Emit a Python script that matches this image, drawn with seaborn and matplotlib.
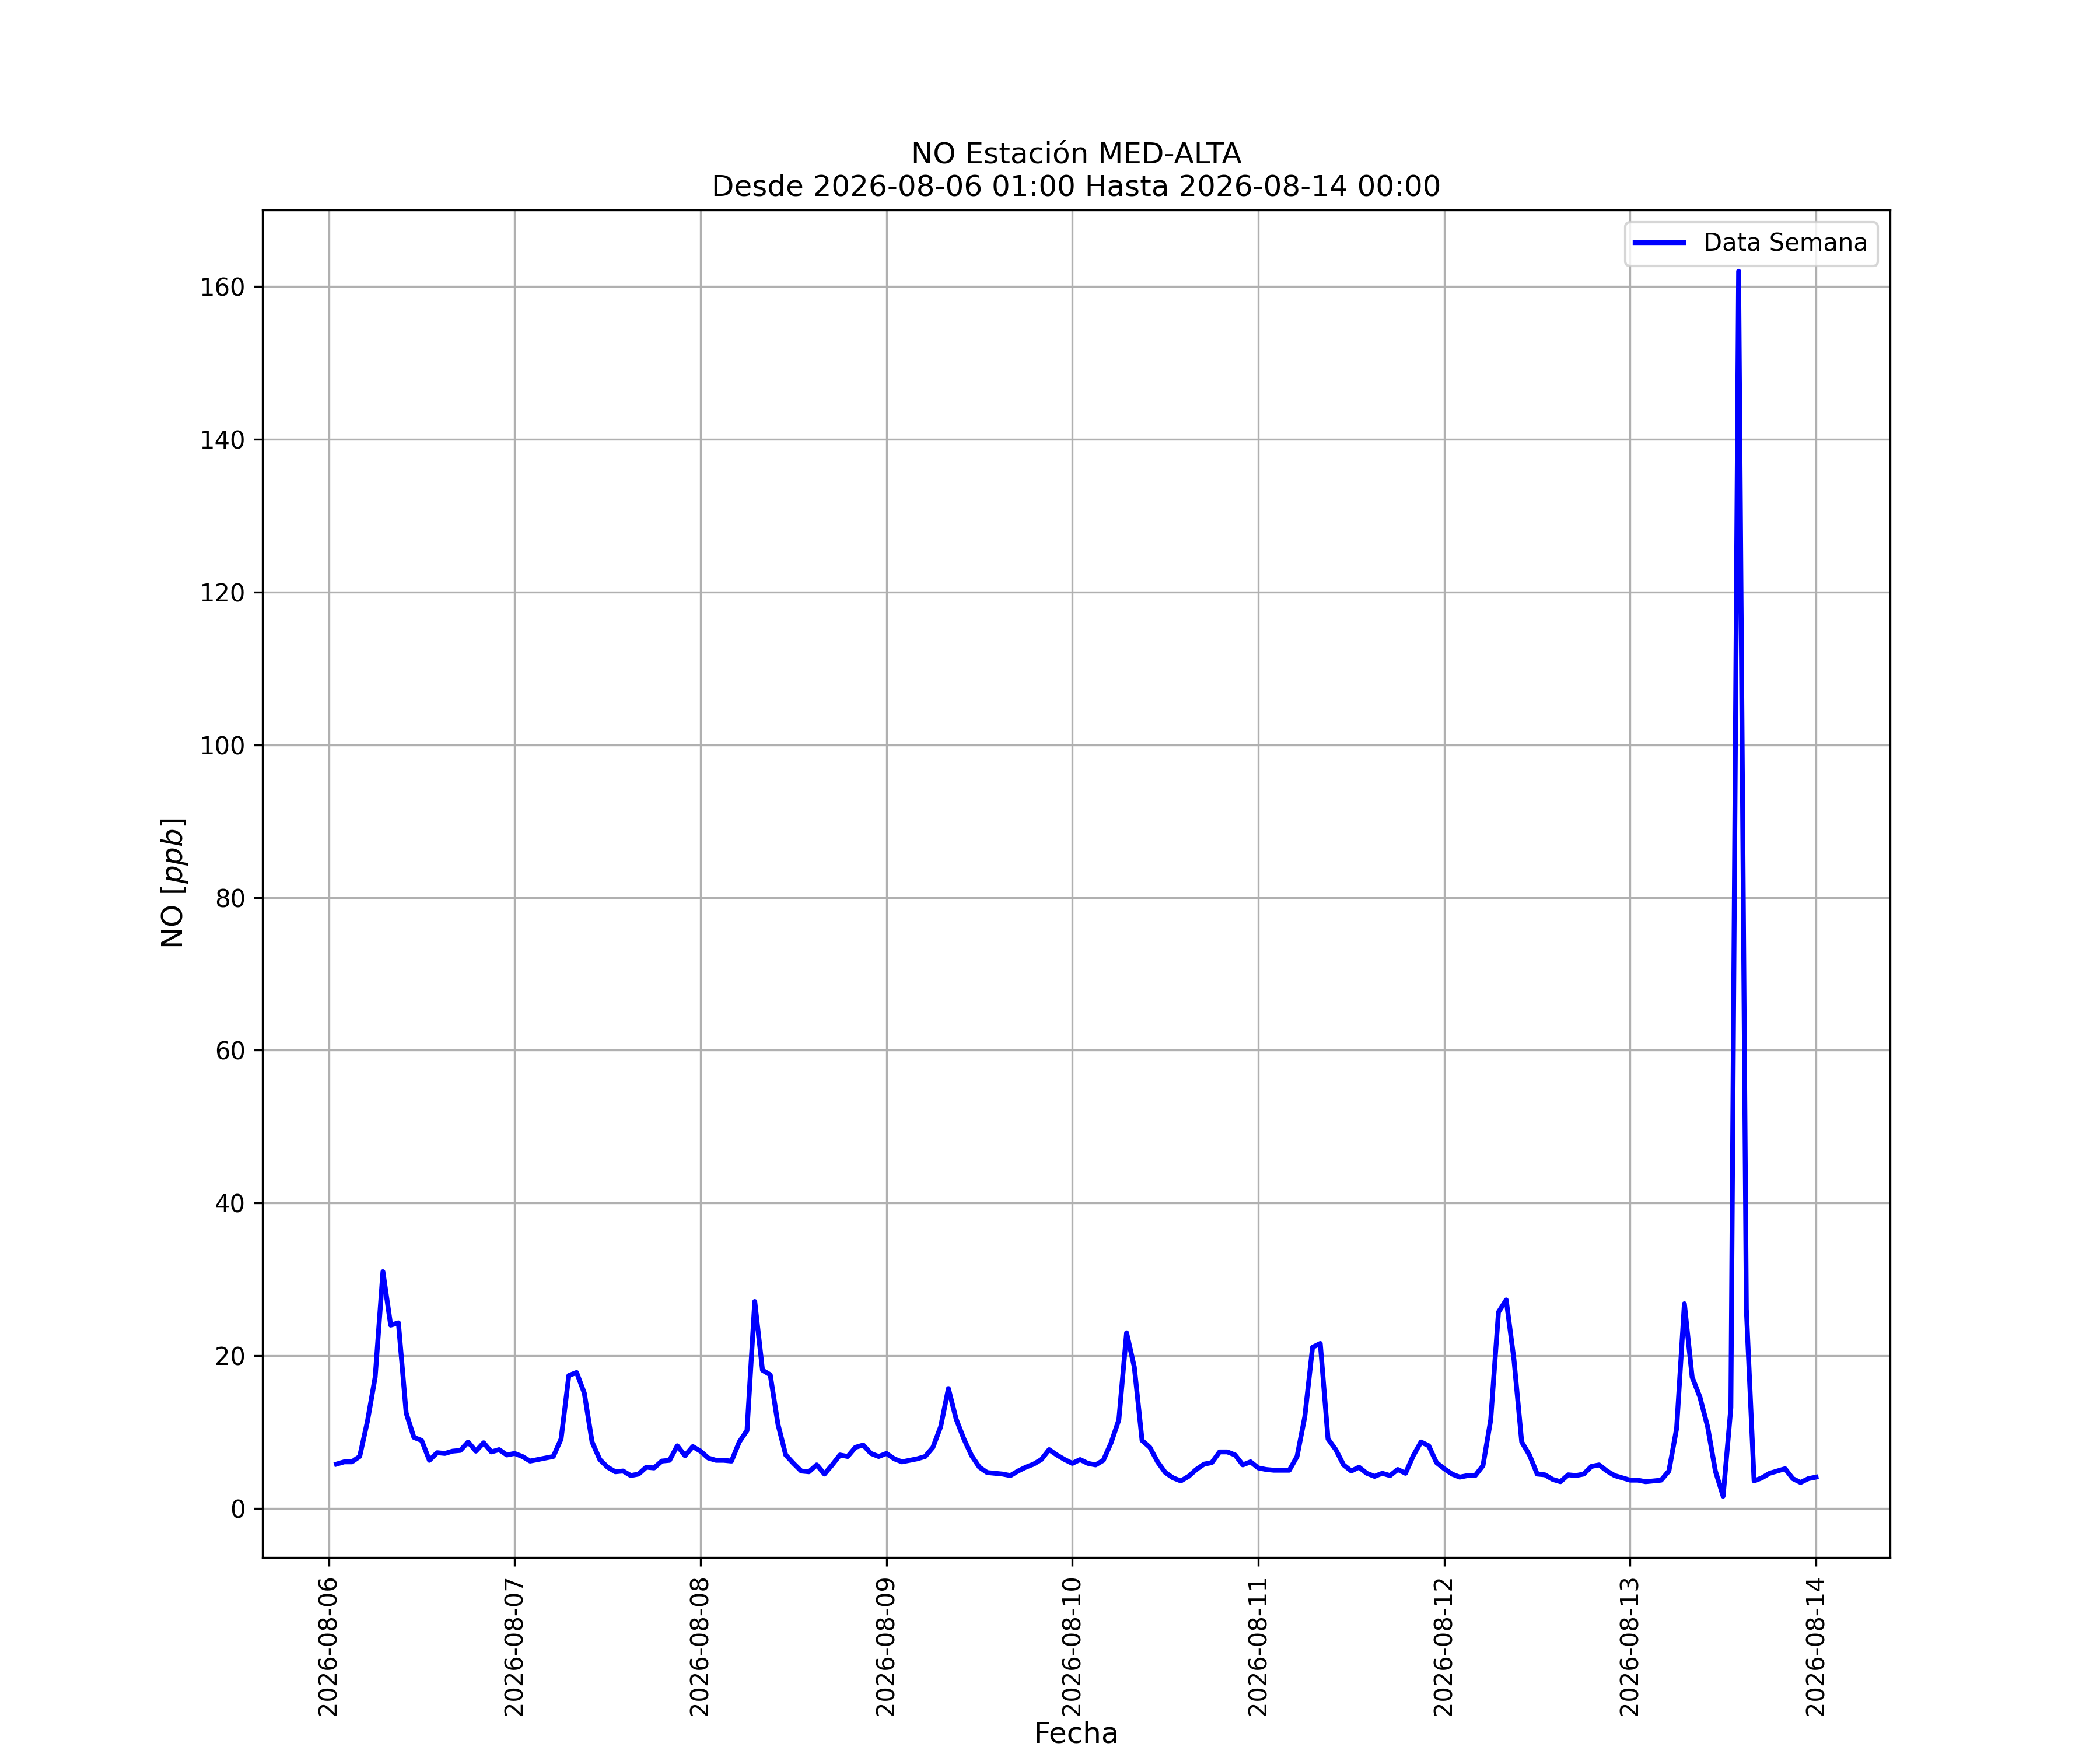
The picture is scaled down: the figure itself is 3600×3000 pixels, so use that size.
import matplotlib
matplotlib.use("Agg")
import matplotlib.pyplot as plt
import seaborn as sns
import pandas as pd

# Datos horarios de NO [ppb], estación MED-ALTA
inicio = "2026-08-06 01:00"
fin = "2026-08-14 00:00"

dia_06 = [5.8, 6.1, 6.1, 6.8, 11.4, 17.2, 31.0, 24.0, 24.3, 12.5, 9.3, 8.9,
          6.3, 7.3, 7.2, 7.5, 7.6, 8.7, 7.5, 8.6, 7.4, 7.7, 7.0, 7.2]
dia_07 = [6.8, 6.2, 6.4, 6.6, 6.8, 9.1, 17.4, 17.8, 15.1, 8.7, 6.4, 5.4,
          4.8, 4.9, 4.3, 4.5, 5.4, 5.3, 6.2, 6.3, 8.2, 6.9, 8.1, 7.5]
dia_08 = [6.6, 6.3, 6.3, 6.2, 8.7, 10.2, 27.1, 18.1, 17.5, 11.0, 7.0, 5.9,
          4.9, 4.8, 5.7, 4.5, 5.7, 7.0, 6.8, 8.0, 8.3, 7.2, 6.8, 7.2]
dia_09 = [6.5, 6.1, 6.3, 6.5, 6.8, 8.0, 10.7, 15.7, 11.7, 9.1, 6.9, 5.4,
          4.7, 4.6, 4.5, 4.3, 4.9, 5.4, 5.8, 6.4, 7.7, 7.0, 6.4, 5.9]
dia_10 = [6.4, 5.9, 5.7, 6.3, 8.6, 11.6, 23.0, 18.5, 8.9, 8.0, 6.1, 4.7,
          4.0, 3.6, 4.2, 5.1, 5.8, 6.0, 7.4, 7.4, 7.0, 5.7, 6.1, 5.3]
dia_11 = [5.1, 5.0, 5.0, 5.0, 6.8, 12.0, 21.1, 21.6, 9.1, 7.7, 5.7, 4.9,
          5.4, 4.6, 4.2, 4.6, 4.3, 5.1, 4.6, 6.9, 8.7, 8.2, 6.0, 5.2]
dia_12 = [4.5, 4.1, 4.3, 4.3, 5.6, 11.6, 25.7, 27.3, 19.5, 8.7, 7.0, 4.5,
          4.4, 3.8, 3.5, 4.4, 4.3, 4.5, 5.5, 5.7, 4.9, 4.3, 4.0, 3.7]
dia_13 = [3.7, 3.5, 3.6, 3.7, 4.9, 10.5, 26.8, 17.2, 14.6, 10.7, 4.9, 1.6,
          13.2, 162.0, 26.1, 3.6, 4.0, 4.6, 4.9, 5.2, 3.9, 3.4, 3.9, 4.1]

valores = dia_06 + dia_07 + dia_08 + dia_09 + dia_10 + dia_11 + dia_12 + dia_13
fechas = pd.date_range(inicio, fin, freq="h")

df = pd.DataFrame({"Fecha": fechas, "NO": valores})

fig, ax = plt.subplots(figsize=(12, 10))

sns.lineplot(data=df, x="Fecha", y="NO", color="blue", linewidth=2,
             label="Data Semana", ax=ax)

ax.set_title("NO Estación MED-ALTA\nDesde " + inicio + " Hasta " + fin, fontsize=12)
ax.set_xlabel("Fecha", fontsize=12, labelpad=2)
ax.set_ylabel("NO $[ppb]$", fontsize=12)
ax.grid(True)
ax.legend(loc="upper right")
plt.setp(ax.get_xticklabels(), rotation=90)

fig.savefig("out.png", dpi=300)
